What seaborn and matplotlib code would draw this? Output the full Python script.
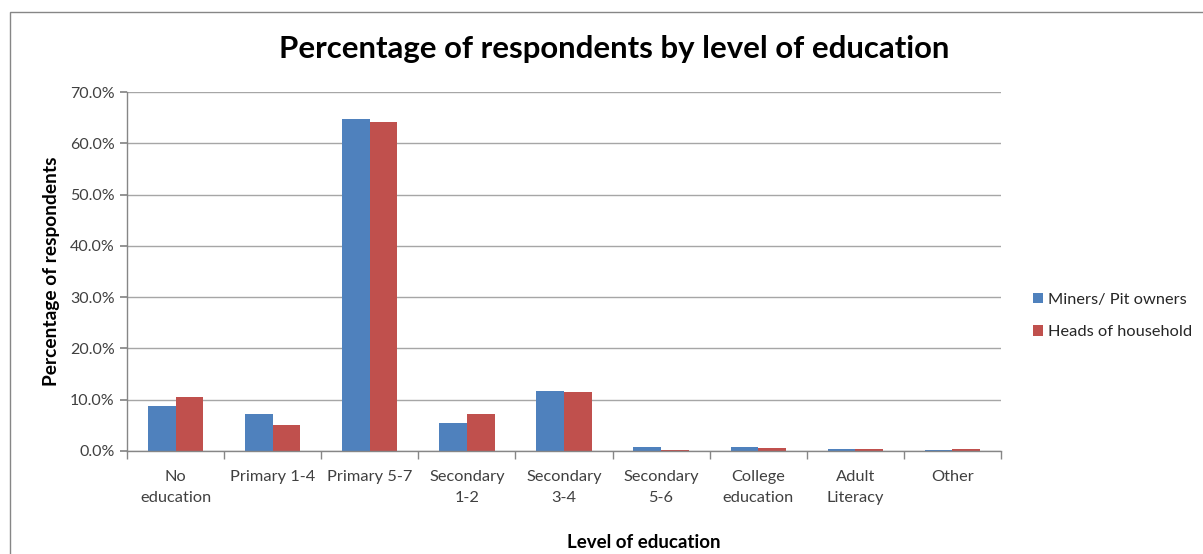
import matplotlib
matplotlib.use("Agg")
import matplotlib.pyplot as plt
import seaborn as sns
import pandas as pd
from matplotlib.ticker import PercentFormatter, FixedLocator
from matplotlib.patches import Rectangle

categories = ["No\neducation", "Primary 1-4", "Primary 5-7", "Secondary\n1-2", "Secondary\n3-4",
              "Secondary\n5-6", "College\neducation", "Adult\nLiteracy", "Other"]
miners = [8.7, 7.25, 64.8, 5.55, 11.7, 0.8, 0.8, 0.4, 0.2]
heads = [10.6, 5.0, 64.1, 7.25, 11.5, 0.25, 0.6, 0.4, 0.4]
series_names = ["Miners/ Pit owners", "Heads of household"]
colors = ["#4F81BD", "#C0504D"]

df = pd.DataFrame({
    "category": categories * 2,
    "value": miners + heads,
    "series": [series_names[0]] * len(categories) + [series_names[1]] * len(categories),
})

sns.set_theme(style="white")
plt.rcParams["font.family"] = ["Lato", "DejaVu Sans"]

fig = plt.figure(figsize=(12.03, 5.54), dpi=100)
ax = fig.add_axes([127 / 1203, 1 - 451 / 554, (1001 - 127) / 1203, (451 - 92) / 554])

sns.barplot(data=df, x="category", y="value", hue="series", palette=colors,
            width=0.57, ax=ax, saturation=1, edgecolor="none")

ax.set_ylim(0, 70)
ax.set_xlim(-0.5, len(categories) - 0.5)
ax.set_yticks(range(0, 71, 10))
ax.yaxis.set_major_formatter(PercentFormatter(decimals=1))
ax.grid(axis="y", color="#A6A6A6", linewidth=1)
ax.set_axisbelow(True)

for s in ["top", "right"]:
    ax.spines[s].set_visible(False)
for s in ["left", "bottom"]:
    ax.spines[s].set_color("#868686")
    ax.spines[s].set_linewidth(1)

ax.tick_params(axis="y", which="major", length=5, color="#868686", direction="out",
               labelsize=11.5, labelcolor="#404040", left=True, pad=4)
ax.tick_params(axis="x", which="major", length=0, labelsize=11.8, labelcolor="#404040", pad=14)
for lbl in ax.get_xticklabels():
    lbl.set_linespacing(1.6)
ax.xaxis.set_minor_locator(FixedLocator([i - 0.5 for i in range(len(categories) + 1)]))
ax.tick_params(axis="x", which="minor", length=6, color="#868686", direction="out", bottom=True)

ax.set_xlabel("")
ax.set_ylabel("Percentage of respondents", fontsize=13.8, fontweight="bold", color="black", labelpad=7)
fig.text(644 / 1203, 1 - 542 / 554, "Level of education", ha="center", va="center",
         fontsize=13.5, fontweight="bold", color="black")

fig.text(614 / 1203, 1 - 49 / 554, "Percentage of respondents by level of education",
         ha="center", va="center", fontsize=22.4, fontweight="bold", color="black")

handles, labels = ax.get_legend_handles_labels()
ax.legend(handles, labels, loc="center left", bbox_to_anchor=(1018 / 1203, 1 - 316 / 554),
          bbox_transform=fig.transFigure, frameon=False, fontsize=11.8,
          handlelength=0.6, handleheight=0.6, handletextpad=0.3, labelspacing=1.15)

fig.patches.append(Rectangle((10 / 1203, -0.01), 1.1, 1 - 12 / 554 + 0.01, transform=fig.transFigure,
                             fill=False, edgecolor="#868686", linewidth=1))

fig.savefig("out.png", dpi=100)
